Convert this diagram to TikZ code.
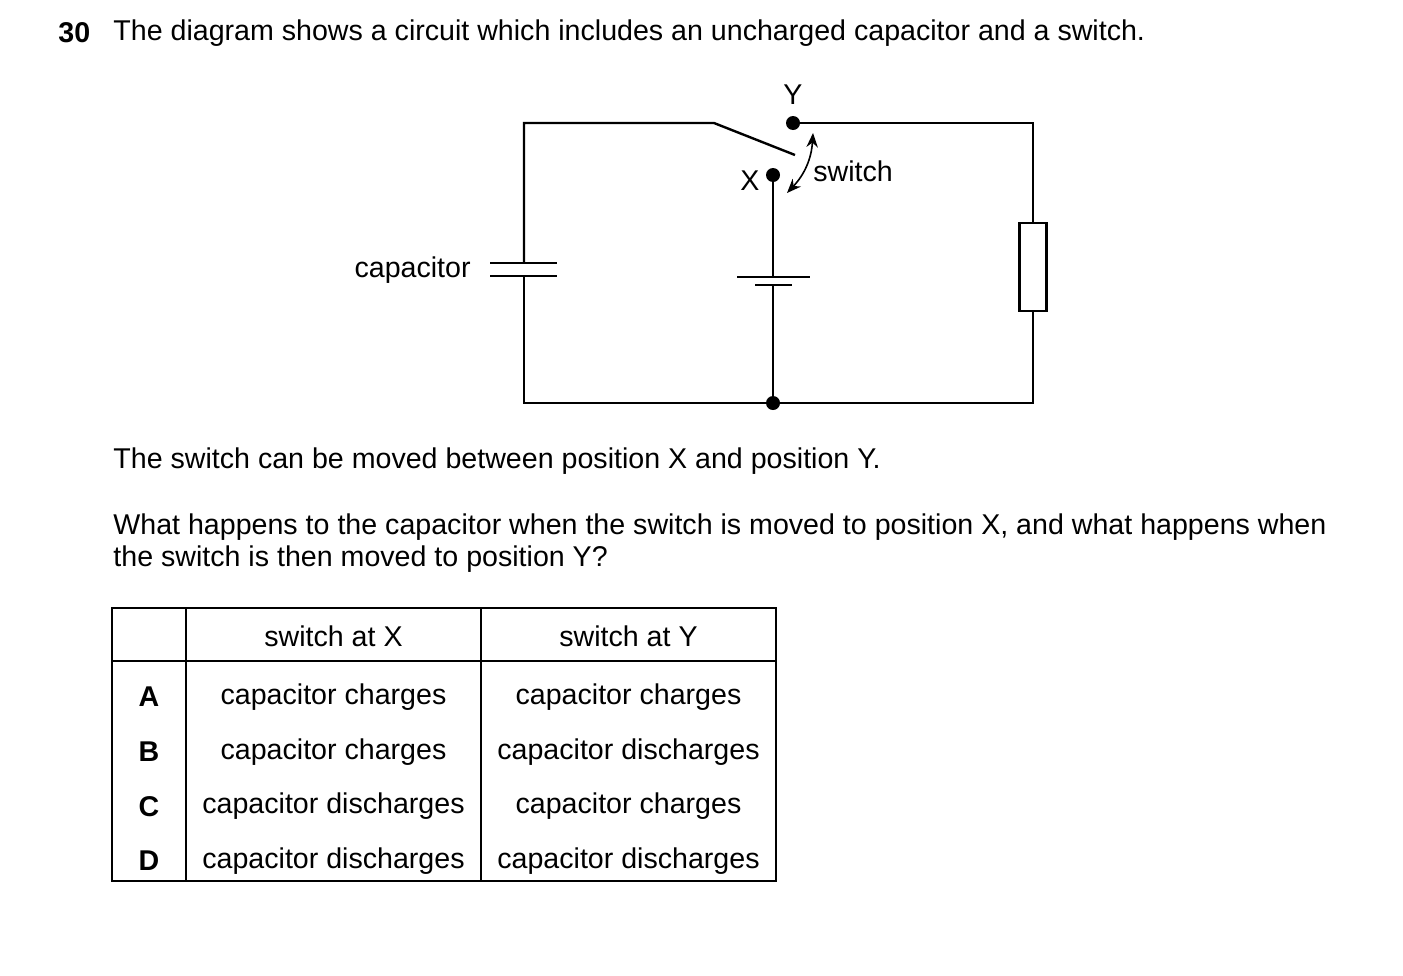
\documentclass[tikz,border=0pt]{standalone}
\usepackage{fontspec}
\setmainfont{Liberation Sans}
\usetikzlibrary{arrows.meta,positioning}
\tikzset{>={Stealth[width=2mm,length=2.5mm]}}
\tikzset{
  wire/.style = {line width=1.2pt},
  dot/.style = {circle, fill, inner sep=0pt, minimum size=7pt},
  txt/.style = {font=\fontsize{14.3}{16}\selectfont, inner sep=0pt},
  cell/.style = {txt, anchor=center},
}
\begin{document}
\begin{tikzpicture}[x=0.5pt, y=-0.5pt]
	\useasboundingbox (0,0) rectangle (1403,975);
	% question
	\node[txt, anchor=west, font=\fontsize{14.3}{16}\selectfont\bfseries] (num) at (58,33) {30};
	\node[txt, anchor=west] (q) at (113,33) {The diagram shows a circuit which includes an uncharged capacitor and a switch.};
	% circuit points
	\coordinate (tl) at (524,123);
	\coordinate (tr) at (1033,123);
	\coordinate (bl) at (524,403);
	\coordinate (br) at (1033,403);
	\coordinate (piv) at (714,123);
	\coordinate (tip) at (795,155);
	\node[dot] (y) at (793,123) {};
	\node[dot] (x) at (773,175) {};
	\node[dot] (j) at (773,403) {};
	\node[draw, wire, minimum width=13.5pt, minimum height=44pt, inner sep=0pt] (res) at (1033,267) {};
	\coordinate (c1) at (524,263);
	\coordinate (c2) at (524,276);
	\coordinate (b1) at (773,277);
	\coordinate (b2) at (773,285);
	\draw[wire] (c1) -- (tl) -- (piv) -- (tip);
	\draw[wire] (y) -- (tr) -- (res.north);
	\draw[wire] (res.south) -- (br) -- (j) -- (bl) -- (c2);
	\draw[wire] ([xshift=-17pt]c1) -- ([xshift=16.5pt]c1);
	\draw[wire] ([xshift=-17pt]c2) -- ([xshift=16.5pt]c2);
	\draw[wire] (x) -- (b1);
	\draw[wire] (j) -- (b2);
	\draw[wire] ([xshift=-18pt]b1) -- ([xshift=18.5pt]b1);
	\draw[wire] ([xshift=-9pt]b2) -- ([xshift=9.5pt]b2);
	% switch arrow
	\coordinate (a1) at (787,193);
	\coordinate (a2) at (813,133);
	\draw[<->, line width=0.8pt] (a1) to[bend right=20] (a2);
	\node[txt] (ylab) at (793,95) {Y};
	\node[txt] (xlab) at (750,181) {X};
	\node[txt, anchor=west] (sw) at (813,171) {switch};
	\node[txt, anchor=east] (cap) at (471,270) {capacitor};
	% text
	\node[txt, anchor=west] (t1) at (113,461) {The switch can be moved between position X and position Y.};
	\node[txt, anchor=west] (t2) at (113,527) {What happens to the capacitor when the switch is moved to position X, and what happens when};
	\node[txt, anchor=west] (t3) at (113,559) {the switch is then moved to position Y?};
	% table
	\draw[line width=0.8pt] (112,608) rectangle (776,881);
	\draw[line width=0.8pt] (112,661) -- (776,661);
	\draw[line width=0.8pt] (186,608) -- (186,881);
	\draw[line width=0.8pt] (481,608) -- (481,881);
	\node[cell] (hx) at (333.5,636) {switch at X};
	\node[cell] (hy) at (628.5,636) {switch at Y};
	\foreach \k/\a/\b [count=\i] in {A/charges/charges, B/charges/discharges, C/discharges/charges, D/discharges/discharges} {
		\pgfmathsetmacro{\yy}{697+54.7*(\i-1)}
		\node[cell, font=\fontsize{14.3}{16}\selectfont\bfseries] (k\i) at (149,\yy) {\k};
		\node[cell] (ax\i) at (333.5,\yy) {capacitor \a};
		\node[cell] (ay\i) at (628.5,\yy) {capacitor \b};
	}
\end{tikzpicture}
\end{document}
